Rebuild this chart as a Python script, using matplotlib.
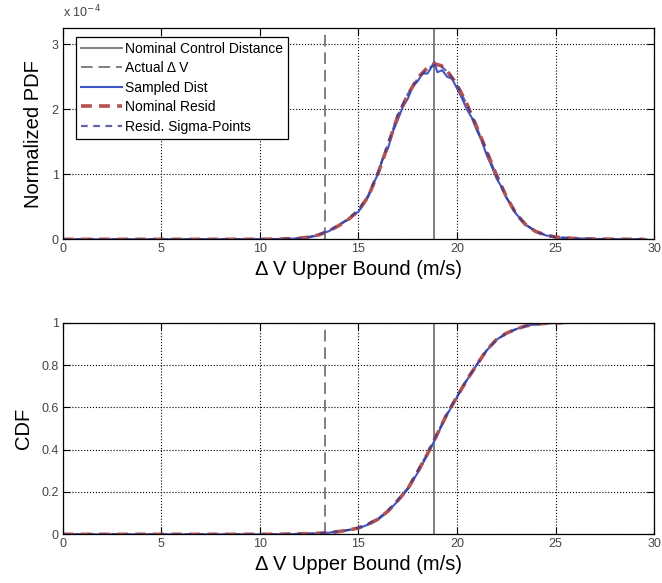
import matplotlib
matplotlib.use("Agg")
import matplotlib.pyplot as plt

plt.rcParams['font.family'] = ['Liberation Sans', 'DejaVu Sans']

# Linhas verticais (m/s)
nominal_dv = 18.84
actual_dv = 13.32

# PDF do modelo (x 1e-4)
x_mod = [0, 10, 11, 12, 12.5, 13, 13.5, 14, 14.5, 15, 15.5, 16, 16.5, 17, 17.5, 18,
         18.5, 18.85, 19.2, 19.5, 20, 20.5, 21, 21.5, 22, 22.5, 23, 23.5, 24, 24.5,
         25, 26, 27, 28, 29.5]
pdf_resid = [0, 0, 0.004, 0.015, 0.035, 0.07, 0.13, 0.21, 0.31, 0.44, 0.66, 1.02, 1.45,
             1.9, 2.22, 2.48, 2.64, 2.70, 2.67, 2.59, 2.38, 2.08, 1.73, 1.36, 0.99, 0.66,
             0.39, 0.22, 0.12, 0.065, 0.035, 0.012, 0.004, 0.001, 0]
pdf_sigma = [0, 0, 0.005, 0.017, 0.038, 0.075, 0.135, 0.22, 0.32, 0.45, 0.68, 1.04, 1.47,
             1.91, 2.23, 2.47, 2.62, 2.68, 2.66, 2.58, 2.37, 2.07, 1.72, 1.35, 0.98, 0.65,
             0.39, 0.22, 0.12, 0.065, 0.035, 0.012, 0.004, 0.001, 0]

# PDF amostrada (x 1e-4)
x_samp = [0, 10.75, 11.0, 11.25, 11.5, 11.75, 12.0, 12.25, 12.5, 12.75, 13.0, 13.25, 13.5,
          13.75, 14.0, 14.25, 14.5, 14.75, 15.0, 15.25, 15.5, 15.75, 16.0, 16.25, 16.5,
          16.75, 17.0, 17.25, 17.5, 17.75, 18.0, 18.25, 18.5, 18.65, 18.85, 19.0, 19.25,
          19.5, 19.75, 20.0, 20.25, 20.5, 20.75, 21.0, 21.25, 21.5, 21.75, 22.0, 22.25,
          22.5, 22.75, 23.0, 23.25, 23.5, 23.75, 24.0, 24.25, 24.5, 24.75, 25.0, 25.5,
          26.0, 26.5, 27.0, 27.5, 28.0, 28.5, 29.0, 29.6]
pdf_samp = [0, 0.004, 0.006, 0.005, 0.01, 0.009, 0.015, 0.013, 0.03, 0.047, 0.068, 0.10,
            0.125, 0.172, 0.215, 0.262, 0.305, 0.372, 0.425, 0.535, 0.655, 0.85, 1.01,
            1.26, 1.40, 1.66, 1.84, 2.04, 2.16, 2.35, 2.43, 2.55, 2.55, 2.62, 2.73, 2.57,
            2.60, 2.50, 2.47, 2.32, 2.17, 2.00, 1.87, 1.68, 1.52, 1.30, 1.13, 0.94, 0.81,
            0.64, 0.53, 0.39, 0.31, 0.22, 0.175, 0.115, 0.095, 0.06, 0.05, 0.028, 0.022,
            0.01, 0.012, 0.005, 0.007, 0.003, 0.005, 0.002, 0.002]

# CDF
x_cdf = [0, 10, 11, 12, 12.5, 13, 13.5, 14, 14.5, 15, 15.5, 16, 16.5, 17, 17.5, 18, 18.5,
         19, 19.5, 20, 20.5, 21, 21.5, 22, 22.5, 23, 23.5, 24, 24.5, 25, 25.4]
cdf_resid = [0, 0, 0.0005, 0.002, 0.003, 0.005, 0.008, 0.013, 0.02, 0.03, 0.048, 0.072,
             0.11, 0.16, 0.215, 0.295, 0.38, 0.475, 0.57, 0.65, 0.73, 0.80, 0.87, 0.92,
             0.95, 0.97, 0.985, 0.993, 0.997, 0.999, 1.0]
cdf_sigma = [0, 0, 0.0005, 0.002, 0.003, 0.005, 0.009, 0.014, 0.021, 0.031, 0.05, 0.075,
             0.113, 0.163, 0.218, 0.298, 0.383, 0.477, 0.571, 0.651, 0.731, 0.801, 0.869,
             0.918, 0.949, 0.969, 0.984, 0.992, 0.997, 0.999, 1.0]
cdf_samp = [0, 0, 0.0004, 0.0018, 0.003, 0.0048, 0.0075, 0.0125, 0.02, 0.029, 0.046, 0.07,
            0.108, 0.158, 0.213, 0.29, 0.375, 0.47, 0.566, 0.648, 0.728, 0.80, 0.868, 0.919,
            0.95, 0.97, 0.985, 0.993, 0.997, 0.999, 1.0]

c_gray = '#7f7f7f'
c_samp = '#3f55c8'
c_resid = '#b5524f'
c_sigma = '#3c3c8e'

fig = plt.figure(figsize=(6.62, 5.83), dpi=100)
ax1 = fig.add_axes([0.095, 0.5895, 0.893, 0.3625])
ax2 = fig.add_axes([0.095, 0.0835, 0.893, 0.363])


def desenha(ax, x_s, y_s, x_m, y_r, y_g):
    ax.axvline(nominal_dv, color=c_gray, lw=1.4, label='Nominal Control Distance')
    ax.axvline(actual_dv, color=c_gray, lw=1.4, ls=(0, (6, 3)), label='Actual \u0394 V')
    ax.plot(x_s, y_s, color=c_samp, lw=1.5, label='Sampled Dist')
    ax.plot(x_m, y_r, color=c_resid, lw=2.6, ls=(0, (3, 2)), label='Nominal Resid')
    ax.plot(x_m, y_g, color=c_sigma, lw=1.6, ls=(0, (3, 2.5)), alpha=0.8,
            label='Resid. Sigma-Points')
    ax.set_xlim(0, 30)
    ax.set_xticks([0, 5, 10, 15, 20, 25, 30])
    ax.grid(True, color='black', ls=':', lw=0.8)
    ax.tick_params(direction='in', top=True, right=True, length=5, labelsize=9,
                   labelcolor='#444444', pad=3)
    ax.set_xlabel('\u0394 V Upper Bound (m/s)', fontsize=14.5, labelpad=3)
    for s in ax.spines.values():
        s.set_linewidth(0.9)


desenha(ax1, x_samp, pdf_samp, x_mod, pdf_resid, pdf_sigma)
ax1.set_ylim(0, 3.25)
ax1.set_yticks([0, 1, 2, 3])
ax1.set_ylabel('Normalized PDF', fontsize=14.5, labelpad=6)
ax1.text(0.0, 1.035, 'x 10$^{-4}$', transform=ax1.transAxes, fontsize=9,
         color='#444444', ha='left', va='bottom')
leg = ax1.legend(loc='upper left', bbox_to_anchor=(0.022, 0.959), borderaxespad=0,
                 fontsize=10, fancybox=False, edgecolor='black', framealpha=1,
                 handlelength=3.0, handletextpad=0.2, labelspacing=0.4,
                 borderpad=0.35)
leg.get_frame().set_linewidth(0.9)

desenha(ax2, x_cdf, cdf_samp, x_cdf, cdf_resid, cdf_sigma)
ax2.set_ylim(0, 1)
ax2.set_yticks([0, 0.2, 0.4, 0.6, 0.8, 1])
ax2.set_yticklabels(['0', '0.2', '0.4', '0.6', '0.8', '1'])
ax2.set_ylabel('CDF', fontsize=14.5, labelpad=6)

fig.savefig('out.png', dpi=100)
